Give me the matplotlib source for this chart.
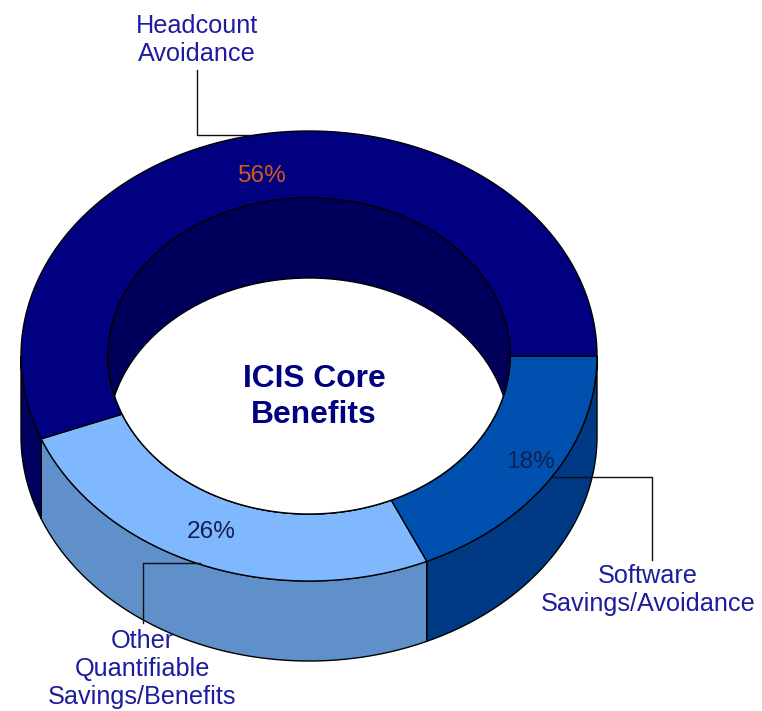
import matplotlib
matplotlib.use("Agg")
import matplotlib.pyplot as plt
from matplotlib.patches import Ellipse, Polygon
import numpy as np

# slices go clockwise from 3 o'clock
names = ["Software\nSavings/Avoidance", "Other\nQuantifiable\nSavings/Benefits", "Headcount\nAvoidance"]
values = [18.3, 25.7, 56.0]  # shares as drawn, the labels round them
top_colors = ["#0050b0", "#80b8ff", "#000080"]
side_colors = ["#003a84", "#5f90c9", "#000060"]
pct_colors = ["#14204c", "#14204c", "#d2581c"]
pct_pos = [(530, 462), (211, 532), (261, 176)]
name_pos = [(648, 590), (142, 669), (197, 40)]
leaders = [
    ([553, 652, 652], [477, 477, 560]),
    ([200, 143, 143], [563, 563, 623]),
    ([197, 197, 250], [70, 135, 135]),
]
title = "ICIS Core\nBenefits"

cx, cy = 309, 356
rx, ry = 288, 225
irx, iry = 201, 158
depth = 80
edge = "#000000"
lw = 1.0

plt.rcParams["font.family"] = ["Liberation Sans", "DejaVu Sans"]

fig = plt.figure(figsize=(7.62, 7.11), dpi=100)
ax = fig.add_axes([0, 0, 1, 1])
ax.set_xlim(0, 762)
ax.set_ylim(711, 0)
ax.axis("off")


def arc(a, b, w, h, dy=0):
    t = np.radians(np.linspace(a, b, 200))
    return np.column_stack([cx + w * np.cos(t), cy + dy + h * np.sin(t)])


edges = np.concatenate([[0], np.cumsum(values)]) * 3.6

# outer wall, only the front half shows
for i in range(len(values)):
    a, b = edges[i], min(edges[i + 1], 180)
    if a >= 180:
        continue
    pts = np.vstack([arc(a, b, rx, ry), arc(b, a, rx, ry, depth)])
    ax.add_patch(Polygon(pts, closed=True, fc=side_colors[i], ec=edge, lw=lw, zorder=1))

# top faces
for i in range(len(values)):
    a, b = edges[i], edges[i + 1]
    pts = np.vstack([arc(a, b, rx, ry), arc(b, a, irx, iry)])
    ax.add_patch(Polygon(pts, closed=True, fc=top_colors[i], ec=edge, lw=lw, zorder=2))

# inner wall and the hole
well = Ellipse((cx, cy), 2 * irx, 2 * iry, fc="#00005c", ec=edge, lw=lw, zorder=3)
ax.add_patch(well)
hole = Ellipse((cx, cy + depth), 2 * irx, 2 * iry, fc="white", ec=edge, lw=lw, zorder=4)
ax.add_patch(hole)
hole.set_clip_path(well)

# the lower rim sits on top of the white hole
rim = ax.plot(*arc(0, 180, irx, iry).T, color=edge, lw=lw, zorder=5)

for i in range(len(values)):
    ax.plot(leaders[i][0], leaders[i][1], color="#101010", lw=1.0, zorder=6)
    ax.text(pct_pos[i][0], pct_pos[i][1], "%d%%" % round(values[i]), color=pct_colors[i],
            fontsize=17.6, ha="center", va="center", zorder=7)
    ax.text(name_pos[i][0], name_pos[i][1], names[i], color="#1c1c9c",
            fontsize=18.2, ha="center", va="center", linespacing=1.19, zorder=7)

ax.text(314, 397, title, color="#000080", fontsize=22.9, fontweight="bold",
        ha="center", va="center", linespacing=1.3, zorder=7)

fig.savefig("out.png", dpi=100, facecolor="white")
